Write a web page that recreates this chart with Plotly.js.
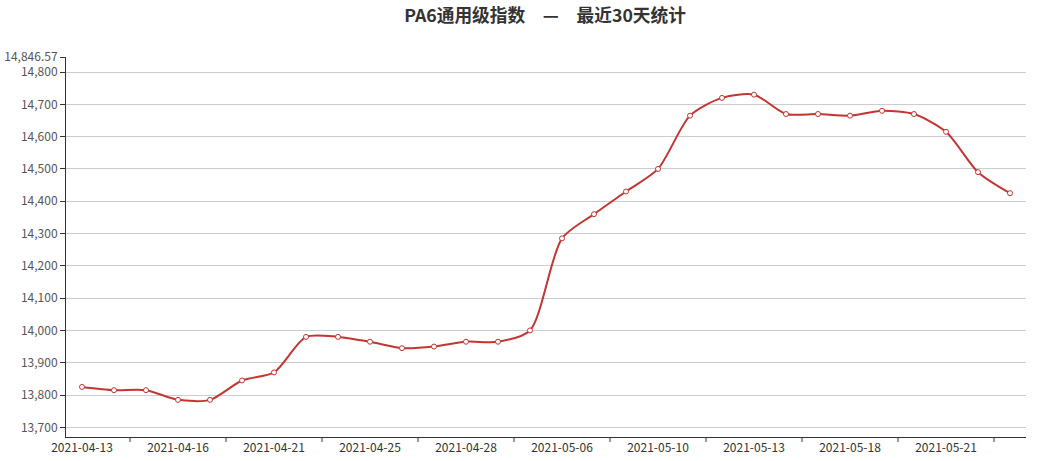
<!DOCTYPE html>
<html>
<head>
<meta charset="utf-8">
<script src="https://cdn.plot.ly/plotly-3.0.1.min.js"></script>
<style>html,body{margin:0;padding:0;background:#fff;}#chart{width:1037px;height:461px;}</style>
</head>
<body>
<div id="chart"></div>
<script>
const dates = ["2021-04-13","2021-04-14","2021-04-15","2021-04-16","2021-04-19","2021-04-20","2021-04-21","2021-04-22","2021-04-23","2021-04-25",
  "2021-04-26","2021-04-27","2021-04-28","2021-04-29","2021-04-30","2021-05-06","2021-05-07","2021-05-08","2021-05-10","2021-05-11",
  "2021-05-12","2021-05-13","2021-05-14","2021-05-17","2021-05-18","2021-05-19","2021-05-20","2021-05-21","2021-05-24","2021-05-25"];
const values = [13825,13815,13815,13785,13785,13845,13870,13980,13980,13965,
  13945,13950,13965,13965,14000,14285,14360,14430,14500,14665,
  14720,14730,14670,14670,14665,14680,14670,14615,14490,14425];
const xLabels = ["2021-04-13","2021-04-16","2021-04-21","2021-04-25","2021-04-28","2021-05-06","2021-05-10","2021-05-13","2021-05-18","2021-05-21"];
const yTicks = [13700,13800,13900,14000,14100,14200,14300,14400,14500,14600,14700,14800,14846.57];
const yMin = 13670, yMax = 14846.57;

const tickText = yTicks.map(v => v.toLocaleString('en-US', {maximumFractionDigits: 2}));
const xTickShapes = xLabels.map(l => dates.indexOf(l) + 1.5).map(p => ({
  type: 'line', xref: 'x', yref: 'paper', x0: p, x1: p, y0: 0, y1: -0.013,
  line: {color: '#333', width: 1}
}));

const trace = {
  x: dates, y: values, type: 'scatter', mode: 'lines+markers',
  line: {color: '#c23531', width: 2, shape: 'spline', smoothing: 0.75},
  marker: {symbol: 'circle', size: 5, color: '#fff', line: {color: '#c23531', width: 1}},
  hoverinfo: 'x+y'
};

const layout = {
  width: 1037, height: 461,
  margin: {l: 66, r: 11, t: 57, b: 24},
  paper_bgcolor: '#fff', plot_bgcolor: '#fff',
  showlegend: false,
  title: {text: '<b>PA6通用级指数　—　最近30天统计</b>', x: 0.5256, xanchor: 'center', y: 0.979, yanchor: 'top',
    font: {family: '"Noto Sans CJK SC", "Noto Sans", sans-serif', size: 17.7, color: '#333'}},
  xaxis: {
    type: 'category', range: [-0.5, dates.length - 0.5],
    tickmode: 'array', tickvals: xLabels, ticktext: xLabels,
    ticks: '', showgrid: false, zeroline: false,
    showline: true, linecolor: '#333', linewidth: 1,
    tickfont: {family: '"Noto Sans CJK SC", "Noto Sans", sans-serif', size: 12, color: '#333'},
    fixedrange: true
  },
  yaxis: {
    range: [yMin, yMax], tickmode: 'array', tickvals: yTicks, ticktext: tickText,
    ticks: 'outside', ticklen: 5, tickcolor: '#333',
    showgrid: true, gridcolor: '#ccc', gridwidth: 1, zeroline: false,
    showline: true, linecolor: '#333', linewidth: 1,
    tickfont: {family: '"Noto Sans CJK SC", "Noto Sans", sans-serif', size: 12, color: '#555'},
    fixedrange: true
  },
  shapes: xTickShapes
};

Plotly.newPlot('chart', [trace], layout, {displayModeBar: false});
</script>
</body>
</html>
